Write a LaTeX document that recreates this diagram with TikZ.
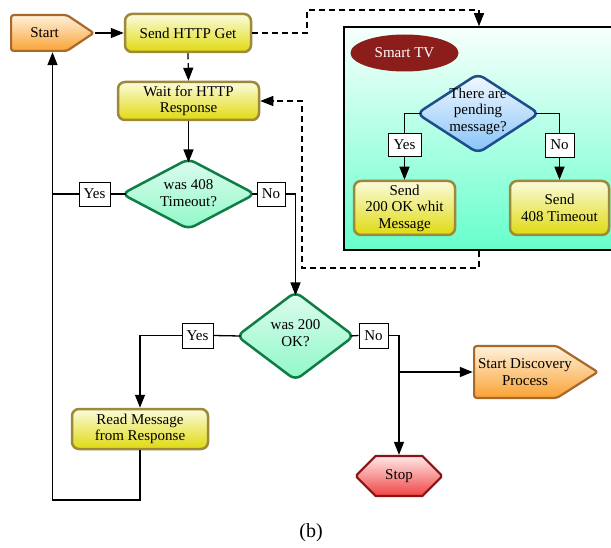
\documentclass[tikz,border=0pt]{standalone}
\usepackage{fontspec}
\setmainfont{Liberation Serif}
\usetikzlibrary{shapes.geometric,shapes.misc,arrows.meta}

\definecolor{ylTop}{HTML}{FBFBDC}
\definecolor{ylBot}{HTML}{E0DA10}
\definecolor{ylBrd}{HTML}{9C8A3A}
\definecolor{orTop}{HTML}{FFF3E0}
\definecolor{orBot}{HTML}{F9A030}
\definecolor{orBrd}{HTML}{A8682A}
\definecolor{rdTop}{HTML}{FFE8E8}
\definecolor{rdBot}{HTML}{F04444}
\definecolor{rdBrd}{HTML}{8A1414}
\definecolor{gnTop}{HTML}{DDFCEE}
\definecolor{gnBot}{HTML}{8FF8C8}
\definecolor{gnBrd}{HTML}{0F7D45}
\definecolor{blTop}{HTML}{F4FAFF}
\definecolor{blBot}{HTML}{86C2F8}
\definecolor{blBrd}{HTML}{1C4E8C}
\definecolor{tvTop}{HTML}{F8FFFD}
\definecolor{tvBot}{HTML}{66FFCC}
\definecolor{tvTag}{HTML}{8B1E1A}

\tikzset{
  txt/.style={font=\fontsize{15}{16.5}\selectfont, align=center},
  process/.style={txt, rectangle, rounded corners=7pt, line width=2.5pt,
    draw=ylBrd, top color=ylTop, bottom color=ylBot, inner sep=0pt},
  % flat-backed arrow-shaped terminal; the argument is the length of the point
  terminal/.style={rectangle, inner sep=0pt, path picture={
      \shade[top color=orTop, bottom color=orBot, draw=orBrd, line width=2.2pt,
        line join=round, rounded corners=2.5pt]
        ([xshift=1.1pt,yshift=-1.1pt]path picture bounding box.north west)
        -- ([xshift=-#1pt,yshift=-1.1pt]path picture bounding box.north east)
        -- ([xshift=-1.3pt]path picture bounding box.east)
        -- ([xshift=-#1pt,yshift=1.1pt]path picture bounding box.south east)
        -- ([xshift=1.1pt,yshift=1.1pt]path picture bounding box.south west)
        -- cycle;}},
  stopbox/.style={txt, chamfered rectangle, chamfered rectangle xsep=12pt,
    chamfered rectangle ysep=12pt, line width=2.2pt,
    draw=rdBrd, top color=rdTop, bottom color=rdBot, inner sep=0pt},
  % rounded diamonds: anchors pulled in so connectors meet the rounded tips
  decision/.style={diamond, rounded corners=7pt, line width=2.5pt, outer sep=-2.5pt,
    draw=gnBrd, top color=gnTop, bottom color=gnBot, inner sep=0pt},
  tvdecision/.style={decision, draw=blBrd, top color=blTop, bottom color=blBot},
  tag/.style={txt, draw=black, fill=white, line width=0.9pt, inner sep=0pt},
  link/.style={line width=1.3pt},
  arrow/.style={link, -{Triangle[length=13pt,width=10pt]}},
  dlink/.style={link, dash pattern=on 6pt off 4pt, -{Triangle[length=13pt,width=10pt]}},
}

\begin{document}
\begin{tikzpicture}[x=1pt, y=-1pt]
\useasboundingbox (0,0) rectangle (611,548);
\fill[white] (0,0) rectangle (611,548);

% Smart TV panel
\node[rectangle, draw=black, line width=1.5pt, top color=tvTop, bottom color=tvBot,
  minimum width=270pt, minimum height=223pt, inner sep=0pt] (tv) at (479,138.5) {};
\node[txt, ellipse, fill=tvTag, text=white, minimum width=108pt, minimum height=37pt,
  inner sep=0pt] (tvname) at (404.5,53) {Smart TV};
\node[tvdecision, minimum width=120pt, minimum height=77pt] (dpend) at (478,113.5) {};
\node[txt] (dpendt) at (478,111) {There are\\pending\\message?};
\node[process, minimum width=101pt, minimum height=54pt] (s200) at (404.5,208) {Send\\200 OK whit\\Message};
\node[process, minimum width=99pt, minimum height=54pt] (s408) at (559.5,208) {Send\\408 Timeout};
\node[tag, minimum width=33pt, minimum height=23pt] (ypend) at (404.5,145) {Yes};
\node[tag, minimum width=29pt, minimum height=24pt] (npend) at (559.5,145) {No};

% client side
\node[terminal=28, minimum width=85pt, minimum height=38pt] (start) at (52.5,33) {};
\node[txt] (startt) at (44.5,33) {Start};
\node[process, minimum width=126pt, minimum height=38pt] (send) at (188,33) {Send HTTP Get};
\node[process, minimum width=141pt, minimum height=38pt] (wait) at (188.5,101) {Wait for HTTP\\Response};
\node[decision, minimum width=131pt, minimum height=68pt] (d408) at (188.5,194) {};
\node[txt] (d408t) at (188.5,193) {was 408\\Timeout?};
\node[tag, minimum width=31pt, minimum height=24pt] (y408) at (94.5,194) {Yes};
\node[tag, minimum width=28pt, minimum height=24pt] (n408) at (271,194) {No};
\node[decision, minimum width=115pt, minimum height=86pt] (d200) at (295.5,336) {};
\node[txt] (d200t) at (295.5,333) {was 200\\OK?};
\node[tag, minimum width=31pt, minimum height=25pt] (y200) at (197.5,335.5) {Yes};
\node[tag, minimum width=29pt, minimum height=25pt] (n200) at (373.5,335.5) {No};
\node[process, minimum width=136pt, minimum height=40pt] (read) at (140,429) {Read Message\\from Response};
\node[stopbox, minimum width=84pt, minimum height=40pt] (stop) at (399,476) {Stop};
\node[terminal=42, minimum width=126pt, minimum height=54pt] (disc) at (536,372) {};
\node[txt] (disct) at (525,372) {Start Discovery\\Process};

\node[font=\fontsize{20}{22}\selectfont] (caption) at (311,533) {(b)};

% junction points
\coordinate (loopc) at (52.5,500);
\coordinate (up1) at (307,10);
\coordinate (dn1) at (302,268);
\coordinate (br) at (stop.north |- disc.west);

% connectors
\draw[arrow] (start.east) -- (send.west);
\draw[dlink] (send.south) -- (wait.north);
\draw[arrow] (wait.south) -- (d408.north);
\draw[link] (d408.west) -- (y408.east);
\draw[link] (y408.west) -- (y408.west -| loopc);
\draw[link] (d408.east) -- (n408.west);
\draw[arrow] (n408.east) -| (d200.north);
\draw[link] (d200.west) -- (y200.east);
\draw[arrow] (y200.west) -| (read.north);
\draw[arrow] (read.south) |- (loopc) -- (start.south);
\draw[link] (d200.east) -- (n200.west);
\draw[arrow] (n200.east) -| (stop.north);
\draw[arrow] (br) -- (disc.west);

\draw[dlink] (send.east) -| (up1) -| (tv.north);
\draw[dlink] (tv.south) |- (dn1) |- (wait.east);

\draw[link] (dpend.west) -| (ypend.north);
\draw[arrow] (ypend.south) -- (s200.north);
\draw[link] (dpend.east) -| (npend.north);
\draw[arrow] (npend.south) -- (s408.north);
\end{tikzpicture}
\end{document}
